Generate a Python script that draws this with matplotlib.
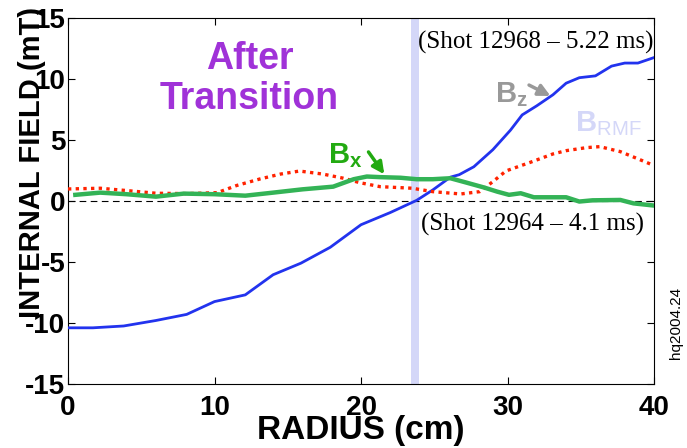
import matplotlib.pyplot as plt
import numpy as np

plt.rcParams["font.family"] = ["Liberation Sans", "DejaVu Sans"]
plt.rcParams["mathtext.fontset"] = "custom"
plt.rcParams["mathtext.rm"] = "Liberation Sans"
plt.rcParams["mathtext.bf"] = "Liberation Sans:bold"
plt.rcParams["axes.unicode_minus"] = False

# B_z (blue, solid)
bz_r = [0, 1.7, 3.8, 6.0, 8.1, 10.0, 12.1, 14.0, 15.9, 17.9, 20.0, 22.0, 23.8,
        24.9, 26.1, 26.7, 27.7, 29.0, 30.2, 31.0, 32.0, 33.1, 34.0, 34.9, 36.0,
        37.1, 38.0, 38.9, 40.0]
bz_v = [-10.4, -10.4, -10.25, -9.8, -9.3, -8.25, -7.7, -6.05, -5.1, -3.8, -1.95,
        -0.95, 0.05, 0.9, 1.95, 2.15, 2.8, 4.2, 5.8, 7.05, 7.8, 8.7, 9.65, 10.1,
        10.25, 11.05, 11.3, 11.3, 11.75]

# B_x (green, thick)
bx_r = [0.5, 2.2, 4.0, 6.0, 7.9, 10.0, 12.1, 14.0, 16.0, 18.1, 19.5, 20.4, 21.3,
        22.7, 23.8, 24.9, 26.1, 27.2, 28.4, 29.3, 30.1, 30.9, 31.8, 34.0, 34.9,
        35.8, 37.7, 38.6, 40.0]
bx_v = [0.5, 0.68, 0.55, 0.35, 0.6, 0.55, 0.43, 0.68, 0.95, 1.17, 1.78, 2.0,
        1.95, 1.9, 1.78, 1.78, 1.86, 1.5, 1.1, 0.76, 0.5, 0.63, 0.3, 0.3, -0.05,
        0.05, 0.08, -0.2, -0.38]

# B_RMF (red, dotted)
brmf_r = [0, 2.2, 4.0, 6.0, 8.1, 10.2, 11.5, 13.1, 14.5, 15.8, 17.4, 18.8, 19.9,
          21.3, 23.5, 24.9, 26.8, 28.1, 29.0, 29.9, 31.5, 33.1, 34.0, 35.4, 36.3,
          37.7, 38.8, 40.0]
brmf_v = [0.98, 1.04, 0.85, 0.63, 0.6, 0.68, 1.26, 1.8, 2.2, 2.45, 2.2, 1.86,
          1.5, 1.17, 1.04, 0.76, 0.57, 0.76, 1.58, 2.46, 3.14, 3.85, 4.12, 4.37,
          4.45, 4.04, 3.5, 2.9]

band = (23.4, 23.95)

fig = plt.figure(figsize=(6.87, 4.48), dpi=100)
ax = fig.add_axes([0.099, 0.143, 0.853, 0.817])

ax.axvspan(band[0], band[1], color="#d4d7f8", lw=0, zorder=1)
ax.axhline(0, color="black", lw=0.8, ls=(0, (6, 4)), zorder=2)
ax.plot(bz_r, bz_v, color="#2233ee", lw=2, zorder=3)
ax.plot(brmf_r, brmf_v, color="#ff2200", lw=2.4, ls=(0, (1, 1.3)), zorder=3)
ax.plot(bx_r, bx_v, color="#33b356", lw=3.2, zorder=4)

ax.set_xlim(0, 40)
ax.set_ylim(-15, 15)
ax.set_xticks([0, 10, 20, 30, 40])
ax.set_yticks([-15, -10, -5, 0, 5, 10, 15])
ax.tick_params(direction="in", length=5, width=0.8, top=True, right=True,
               labelsize=20, pad=2)
ax.tick_params(axis="x", pad=8)
for lbl in ax.get_xticklabels() + ax.get_yticklabels():
    lbl.set_fontweight("bold")

ax.set_xlabel("RADIUS (cm)", fontsize=24, fontweight="bold", labelpad=-4)
fig.text(0.047, 0.637, "INTERNAL FIELD (mT)", rotation=90, fontsize=21,
         fontweight="bold", ha="center", va="center")

ax.text(12.4, 10.0, "After\nTransition", color="#a032d8", fontsize=27,
        fontweight="bold", ha="center", va="center", multialignment="center",
        linespacing=1.15)

ax.text(31.9, 13.0, "(Shot 12968 \u2013 5.22 ms)", family="Liberation Serif",
        fontsize=18, ha="center", va="center")
ax.text(31.7, -1.9, "(Shot 12964 \u2013 4.1 ms)", family="Liberation Serif",
        fontsize=18, ha="center", va="center")

ax.text(29.15, 8.1, r"$\mathbf{B}_{\mathbf{z}}$", color="#999999", fontsize=21,
        ha="left", va="baseline")
ax.annotate("", xy=(33.1, 8.5), xytext=(31.3, 9.6),
            arrowprops=dict(arrowstyle="-|>,head_length=0.7,head_width=0.35",
                            color="#999999", lw=2.5))
ax.text(34.6, 5.7, r"$\mathbf{B}_{\mathrm{RMF}}$", color="#d4d7f8", fontsize=21,
        ha="left", va="baseline")
ax.text(17.75, 3.1, r"$\mathbf{B}_{\mathbf{x}}$", color="#22aa11", fontsize=21,
        ha="left", va="baseline")
ax.annotate("", xy=(21.7, 2.0), xytext=(20.4, 4.2),
            arrowprops=dict(arrowstyle="-|>,head_length=0.7,head_width=0.35",
                            color="#22aa11", lw=2.5))

fig.text(0.984, 0.28, "hq2004.24", rotation=90, fontsize=11, ha="center",
         va="center")

plt.savefig("out.png", dpi=100)
